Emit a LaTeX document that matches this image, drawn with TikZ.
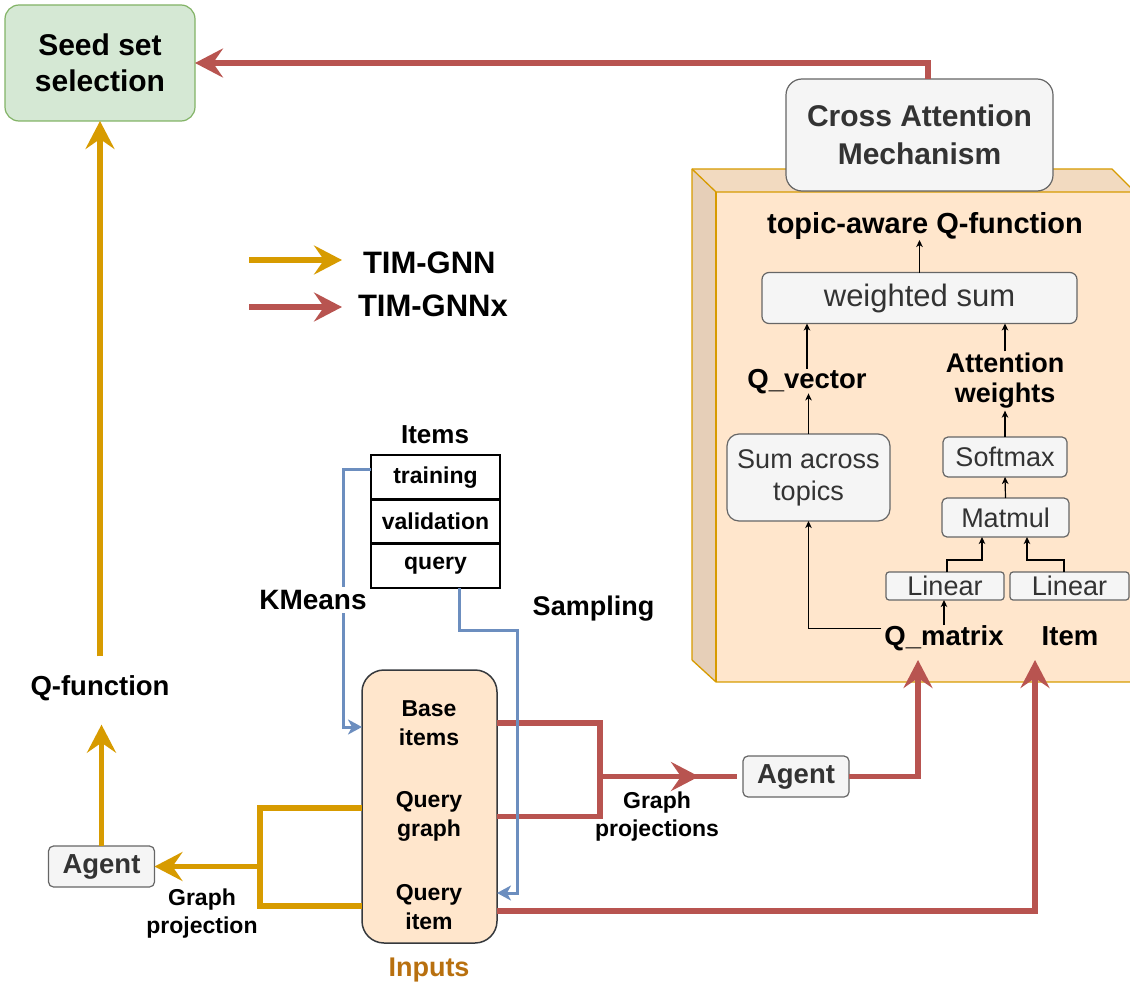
\documentclass[tikz,border=0pt]{standalone}
\usepackage{fontspec}
\setmainfont{Liberation Sans}
\usetikzlibrary{arrows.meta,calc}

\definecolor{seedfill}{HTML}{D5E8D4}
\definecolor{seedline}{HTML}{82B366}
\definecolor{tgred}{HTML}{B85450}
\definecolor{tgyellow}{HTML}{D79B00}
\definecolor{tgblue}{HTML}{6C8EBF}
\definecolor{grayfill}{HTML}{F5F5F5}
\definecolor{grayline}{HTML}{666666}
\definecolor{graytext}{HTML}{333333}
\definecolor{peach}{HTML}{FFE6CC}
\definecolor{peachtop}{HTML}{F2DAC0}
\definecolor{peachside}{HTML}{E6CFB8}
\definecolor{inputline}{HTML}{36393D}
\definecolor{inputtext}{HTML}{B8700F}

\newcommand{\fsz}[2]{\fontsize{#1}{#2}\selectfont}

\begin{document}
\begin{tikzpicture}[x=1pt,y=-1pt,
  every node/.style={inner sep=0pt, outer sep=0pt},
  graybox/.style={draw=grayline, fill=grayfill, text=graytext, line width=1.2pt, rounded corners=5pt},
  bigtip/.style={-{Stealth[length=28pt,width=29pt,inset=10pt]}},
  redline/.style={draw=tgred, line width=5.5pt},
  redarrow/.style={redline, bigtip},
  yelline/.style={draw=tgyellow, line width=5.5pt},
  yelarrow/.style={yelline, bigtip},
  bluearrow/.style={draw=tgblue, line width=3pt, -{Stealth[length=14pt,width=15pt,inset=4pt]}},
  thinarrow/.style={draw=black, line width=1.2pt, -{Stealth[length=7pt,width=6.5pt,inset=2pt]}},
  cubeline/.style={draw=tgyellow, line width=1.3pt, line join=round},
  cell/.style={draw=black, line width=2.8pt, minimum width=129pt, minimum height=44.33pt, font=\fsz{23}{28}\bfseries},
  boldtxt/.style={font=\fsz{27.5}{32}\bfseries},
  innertxt/.style={font=\fsz{23}{28.5}\bfseries, align=center},
]
\useasboundingbox (0,0) rectangle (1130,987);

% ---------- cube holding the cross attention block ----------
\fill[peachside] (692,169) -- (716,192) -- (716,682) -- (692,660) -- cycle;
\fill[peachtop] (692,169) -- (1112,169) -- (1135,192) -- (716,192) -- cycle;
\fill[peach] (716,192) rectangle (1135,682);
\draw[cubeline] (692,660) -- (692,169) -- (1112,169) -- (1135,192);
\draw[cubeline] (692,169) -- (716,192) -- (1135,192);
\draw[cubeline] (692,660) -- (716,682) -- (1135,682);
\draw[cubeline] (716,192) -- (716,682);

% ---------- nodes ----------
\node[draw=seedline, fill=seedfill, line width=1.2pt, rounded corners=14pt,
      minimum width=190pt, minimum height=116pt, align=center,
      font=\fsz{30}{36}\bfseries] (seed) at (100,63) {Seed set\\selection};

\node[graybox, rounded corners=16pt, minimum width=267pt, minimum height=112pt,
      align=center, font=\fsz{30}{38}\bfseries] (cross) at (919.5,135) {Cross Attention\\Mechanism};

\node[anchor=base, font=\fsz{29}{34}\bfseries] (topic) at (925,234) {topic-aware Q-function};
\node[graybox, rounded corners=7pt, minimum width=315pt, minimum height=51pt,
      font=\fsz{31}{36}] (wsum) at (919.5,298) {weighted sum};
\node[anchor=base, boldtxt] (qvec) at (807,388) {Q\_vector};
\node[align=center, font=\fsz{27}{30}\bfseries, inner sep=2pt] (attw) at (1005,381) {Attention\\weights};
\node[graybox, rounded corners=12pt, minimum width=163pt, minimum height=87pt,
      align=center, font=\fsz{27}{32}] (sumt) at (808.5,477.5) {Sum across\\topics};
\node[graybox, minimum width=124pt, minimum height=40pt, font=\fsz{27}{32}] (softmax) at (1005,457) {Softmax};
\node[graybox, minimum width=127pt, minimum height=39pt, font=\fsz{27}{32}] (matmul) at (1005.5,517.5) {Matmul};
\node[graybox, rounded corners=3pt, minimum width=118pt, minimum height=28pt, font=\fsz{27}{32}] (lin1) at (945,586) {Linear};
\node[graybox, rounded corners=3pt, minimum width=119pt, minimum height=28pt, font=\fsz{27}{32}] (lin2) at (1069.5,586) {Linear};
\node[anchor=base, boldtxt] (qmat) at (944,645) {Q\_matrix};
\node[anchor=base, boldtxt] (item) at (1070,645) {Item};

% legend
\node[anchor=base west, font=\fsz{31}{36}\bfseries] (lg1) at (363,273) {TIM-GNN};
\node[anchor=base west, font=\fsz{31}{36}\bfseries] (lg2) at (358,316) {TIM-GNNx};
\coordinate (lg1s) at (249,260);
\coordinate (lg2s) at (249,307);

% item splits
\node[anchor=base, font=\fsz{26}{30}\bfseries] (items) at (435,443) {Items};
\node[cell] (train) at (435.5,477.2) {training};
\node[cell] (valid) at (435.5,521.5) {validation};
\node[cell] (query) at (435.5,565.8) {query};

% inputs block
\node[draw=inputline, fill=peach, line width=1.5pt, rounded corners=22pt,
      minimum width=135pt, minimum height=273pt] (inputs) at (429.5,806.5) {};
\node[innertxt] (inb) at (429,723) {Base\\items};
\node[innertxt] (inq) at (429,816.5) {Query\\graph};
\node[innertxt] (ini) at (429,907) {Query\\item};
\node[font=\fsz{27}{32}\bfseries, text=inputtext] (inlabel) at (429,970) {Inputs};

% left column
\node[boldtxt] (qfun) at (100,688) {Q-function};
\node[graybox, minimum width=106pt, minimum height=41pt, font=\fsz{27.5}{32}\bfseries] (agent1) at (101.5,866.5) {Agent};
\node[innertxt, font=\fsz{23}{28}\bfseries] (gp1) at (202,914) {Graph\\projection};

% middle
\node[graybox, minimum width=106pt, minimum height=41pt, font=\fsz{27.5}{32}\bfseries] (agent2) at (796,776.5) {Agent};
\node[innertxt, font=\fsz{23}{28}\bfseries] (gp2) at (657,817) {Graph\\projections};

% path corners
\coordinate (kx) at (343,600);
\coordinate (sx) at (517,630);
\coordinate (yj) at (260,866.5);
\coordinate (rj) at (600,776.5);
\coordinate (qin) at (918,660);
\coordinate (iin) at (1035,660);
\coordinate (m1) at (982,560);
\coordinate (m2) at (1027,560);

% ---------- connectors ----------
% legend arrows
\draw[yelarrow, shorten >=21pt] (lg1s) -- (lg1s -| lg1.west);
\draw[redarrow, shorten >=16pt] (lg2s) -- (lg2s -| lg2.west);

% output of the cross attention block
\draw[redarrow] ($(cross.north)+(8.5,0)$) |- (seed.east);

% TIM-GNN branch
\draw[yelarrow, shorten <=19pt] (seed.south |- qfun.north) -- (seed.south);
\draw[yelarrow, shorten >=24pt] (agent1.north) -- (agent1.north |- qfun.south);
\draw[yelline] ($(inputs.west |- inq)+(0,-8.5)$) -| (yj) |- ($(inputs.west |- ini)+(0,-1)$);
\draw[yelarrow] (yj) -- (agent1.east);

% TIM-GNNx branch
\draw[redline] (inputs.east |- inb) -| (rj) |- (inputs.east |- inq);
\draw[redline, shorten >=6pt] (rj) -- (agent2.west);
\draw[redarrow, shorten >=44pt] (rj) -- (agent2.west);
\draw[redarrow] (agent2.east) -| (qin);
\draw[redarrow] ($(inputs.east |- ini)+(0,4)$) -| (iin);

% item splits to inputs
\draw[bluearrow] ($(train.west)+(0,-7.5)$) -| (kx) |- ($(inputs.west |- inb)+(0,4)$);
\draw[bluearrow] ($(query.south)+(23.5,0)$) |- (sx) |- ($(inputs.east |- ini)+(0,-14)$);
\node[fill=white, inner xsep=1pt, inner ysep=3pt, font=\fsz{28}{32}\bfseries] (kmeans) at (313,600) {KMeans};
\node[anchor=base, font=\fsz{27}{32}\bfseries] (sampling) at (593.5,615) {Sampling};

% inside the cross attention block
\draw[thinarrow] (wsum.north) -- (wsum.north |- topic.south);
\draw[thinarrow] (qvec.north) -- (qvec.north |- wsum.south);
\draw[thinarrow] (attw.north) -- (attw.north |- wsum.south);
\draw[thinarrow] (sumt.north) -- (sumt.north |- qvec.south);
\draw[thinarrow] (softmax.north) -- (softmax.north |- attw.south);
\draw[thinarrow] (matmul.north) -- (softmax.south);
\draw[thinarrow] ($(lin1.north)+(2,0)$) |- (m1) -- (m1 |- matmul.south);
\draw[thinarrow] ($(lin2.north)+(-5.5,0)$) |- (m2) -- (m2 |- matmul.south);
\draw[thinarrow] (qmat.north) -- (qmat.north |- lin1.south);
\draw[thinarrow] ($(qmat.west)+(-3,-9.5)$) -| (sumt.south);
\end{tikzpicture}
\end{document}
